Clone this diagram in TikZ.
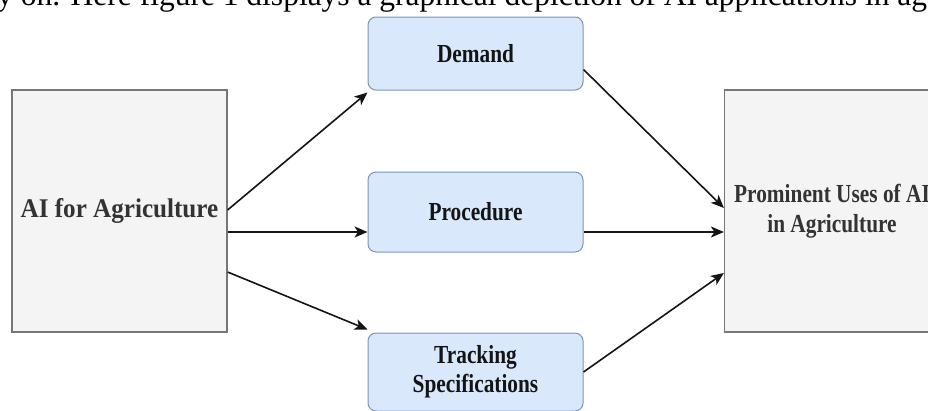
\documentclass[tikz,border=0pt]{standalone}
\usepackage{fontspec}
\setmainfont{Liberation Serif}
\newfontfamily\diagfont[FakeStretch=0.82]{Liberation Serif}
\newfontfamily\sidefont[FakeStretch=0.93]{Liberation Serif}
\usepackage{tikz}
\usepackage{xcolor}
\usetikzlibrary{arrows.meta,positioning,calc}
\definecolor{cGrayFill}{HTML}{f4f4f4}
\definecolor{cGrayLine}{HTML}{777777}
\definecolor{cGrayText}{HTML}{333333}
\definecolor{cBlueFill}{HTML}{dae8fc}
\definecolor{cBlueLine}{HTML}{7d93b8}
\definecolor{cInk}{HTML}{141414}
\tikzset{
  side/.style={rectangle,draw=cGrayLine,line width=1.2pt,fill=cGrayFill,text=cGrayText,
    minimum width=215pt,minimum height=242pt,inner sep=0pt,align=center},
  stage/.style={rectangle,rounded corners=8pt,draw=cBlueLine,line width=1pt,fill=cBlueFill,
    text=cInk,minimum width=215pt,inner sep=0pt,align=center,
    font=\diagfont\bfseries\fontsize{26}{29}\selectfont},
  flowarrow/.style={-{Stealth[length=13pt,width=11pt,inset=3.5pt]},line width=1.6pt,cInk},
}

\begin{document}
\begin{tikzpicture}[x=1pt,y=-1pt]
\useasboundingbox (0,0) rectangle (928,410);
\node[anchor=base west,inner sep=0pt,font=\fontsize{31.5}{32}\selectfont] (para) at (-3,5)
  {y on. Here figure 1 displays a graphical depiction of AI applications in ag};
\node[side,font=\sidefont\bfseries\fontsize{27}{30}\selectfont] (ai) at (119.5,211) {AI for Agriculture};
\node[side,font=\diagfont\bfseries\fontsize{26}{30}\selectfont] (uses) at (832,211)
  {Prominent Uses of AI\\in Agriculture};
\node[stage,minimum height=73pt] (demand) at (475.5,53.5) {Demand};
\node[stage,minimum height=80pt] (proc) at (475.5,212) {Procedure};
\node[stage,minimum height=78pt] (track) at (475.5,372) {Tracking\\Specifications};
\draw[flowarrow] ([yshift=1pt]ai.east) -- ([yshift=-2pt]demand.south west);
\draw[flowarrow] ([yshift=-21pt]ai.east) -- ([yshift=-20pt]proc.west);
\draw[flowarrow] ([yshift=-61pt]ai.east) -- ([yshift=3pt]track.north west);
\draw[flowarrow] ([yshift=-16pt]demand.east) -- ([yshift=3pt]uses.west);
\draw[flowarrow] ([yshift=-20pt]proc.east) -- ([yshift=-21pt]uses.west);
\draw[flowarrow] (track.east) -- ([yshift=-62pt]uses.west);
\end{tikzpicture}
\end{document}
